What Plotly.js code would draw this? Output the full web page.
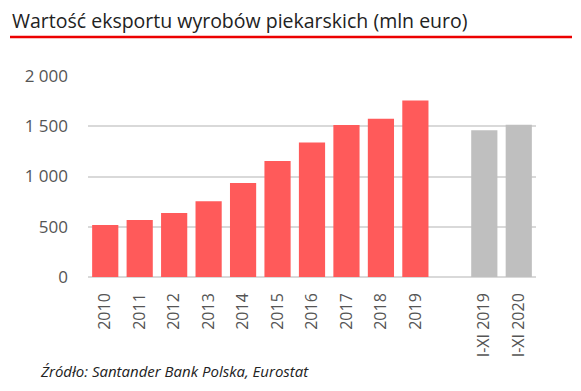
<!DOCTYPE html>
<html><head><meta charset="utf-8">
<script src="https://cdn.plot.ly/plotly-3.0.1.min.js"></script>
<style>body{margin:0;background:#fff}#c{width:581px;height:391px}</style>
</head><body><div id="c"></div>
<script>
const categories = ['2010','2011','2012','2013','2014','2015','2016','2017','2018','2019',' ','I-XI 2019','I-XI 2020'];
const annualValues = [518, 568, 636, 753, 935, 1155, 1338, 1513, 1574, 1755, null, null, null];
const ytdValues = [null, null, null, null, null, null, null, null, null, null, null, 1460, 1516];
const yTicks = [0, 500, 1000, 1500, 2000];
const yTickText = ['0', '500', '1 000', '1 500', '2 000'];

const L = 88, R = 536, T = 76, B = 277;
const W = R - L, H = B - T;
const px = x => (x - L) / W;
const py = y => (B - y) / H;

const data = [
  {type:'bar', x:categories, y:annualValues, marker:{color:'#FF5A5A'}, hoverinfo:'x+y'},
  {type:'bar', x:categories, y:ytdValues, marker:{color:'#BFBFBF'}, hoverinfo:'x+y'}
];
const layout = {
  width:581, height:391,
  margin:{l:L, r:581-R, t:T, b:391-B},
  paper_bgcolor:'#fff', plot_bgcolor:'#fff',
  showlegend:false, barmode:'overlay', bargap:0.24,
  font:{family:'"Open Sans", "Noto Sans", sans-serif', color:'#555'},
  title:{text:'Wartość eksportu wyrobów piekarskich (mln euro)', x:12/581, xanchor:'left', xref:'container', y:1-21/391, yanchor:'middle', yref:'container', font:{size:19.5, color:'#222'}},
  xaxis:{type:'category', categoryorder:'array', categoryarray:categories, tickangle:-90, tickfont:{size:16, color:'#555'}, showgrid:false, showline:false, zeroline:false, ticks:'', ticklabelstandoff:12},
  yaxis:{range:[0,2000], tickvals:yTicks, ticktext:yTickText, tickfont:{size:17, color:'#555'}, showgrid:true, gridcolor:'#D9D9D9', gridwidth:2, zeroline:true, zerolinecolor:'#D9D9D9', zerolinewidth:2, showline:false, ticks:'', ticklabelstandoff:19},
  shapes:[{type:'line', xref:'paper', yref:'paper', x0:px(10), x1:px(572), y0:py(37), y1:py(37), line:{color:'#EC0000', width:2.5}}],
  annotations:[{text:'Źródło: Santander Bank Polska, Eurostat', xref:'paper', yref:'paper', x:px(38), y:py(371), xanchor:'left', yanchor:'middle', showarrow:false, font:{size:15, color:'#222', style:'italic'}}]
};
Plotly.newPlot('c', data, layout, {displayModeBar:false, staticPlot:true});
</script></body></html>
